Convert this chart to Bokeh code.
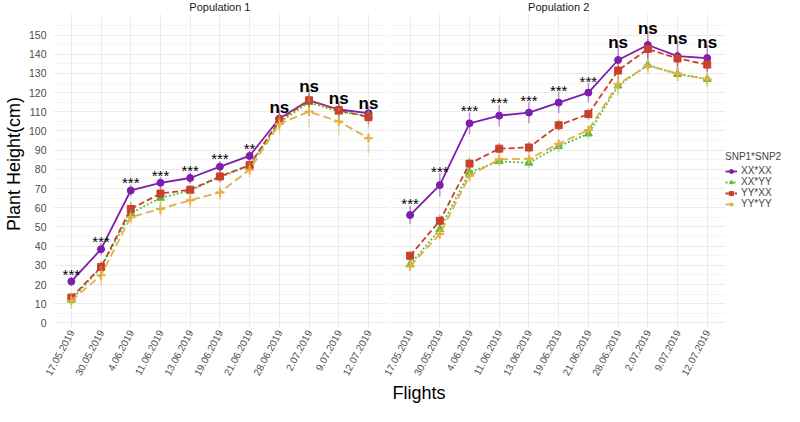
import math
from bokeh.plotting import figure
from bokeh.models import (ColumnDataSource, FixedTicker, Label, Legend, LegendItem,
                          BoxAnnotation, Range1d)
from bokeh.embed import file_html
from bokeh.resources import INLINE
from bokeh.core.properties import value, field

# ---------------- data ----------------
flights = ["17.05.2019", "30.05.2019", "4.06.2019", "11.06.2019", "13.06.2019",
           "19.06.2019", "21.06.2019", "28.06.2019", "2.07.2019", "9.07.2019", "12.07.2019"]
panels = ["Population 1", "Population 2"]
genotypes = ["XX*XX", "XX*YY", "YY*XX", "YY*YY"]

# Population 1 means
p1_XXXX = [21.6, 38.4, 69.0, 73.0, 75.5, 81.4, 87.0, 106.5, 116.0, 111.2, 109.3]
p1_XXYY = [12.0, 29.0, 57.2, 65.1, 69.0, 76.0, 82.0, 104.5, 115.0, 110.0, 108.0]
p1_YYXX = [13.2, 29.1, 59.4, 67.4, 69.4, 76.3, 82.2, 105.6, 116.0, 110.8, 107.2]
p1_YYYY = [11.6, 24.8, 55.1, 59.4, 63.9, 68.0, 79.8, 103.7, 110.1, 105.0, 96.2]
# Population 1 error half-widths
e1_XXXX = [2.4, 3.2, 3.0, 3.0, 3.0, 3.0, 3.0, 4.8, 6.0, 4.5, 4.0]
e1_XXYY = [2.0, 3.0, 3.0, 3.0, 2.5, 3.0, 3.0, 4.0, 5.0, 4.0, 4.0]
e1_YYXX = [2.0, 3.0, 3.5, 3.0, 2.5, 3.0, 3.0, 4.0, 5.0, 4.0, 4.0]
e1_YYYY = [4.4, 5.0, 4.0, 4.0, 4.0, 4.0, 4.0, 5.0, 8.0, 7.0, 7.5]

# Population 2 means
p2_XXXX = [56.2, 71.8, 104.0, 108.0, 109.6, 114.8, 120.0, 137.0, 144.8, 139.0, 138.0]
p2_XXYY = [30.4, 48.7, 78.5, 84.2, 83.4, 92.0, 98.6, 123.6, 134.4, 129.6, 127.0]
p2_YYXX = [35.0, 53.2, 83.0, 90.8, 91.4, 103.0, 108.8, 131.5, 142.7, 137.8, 134.6]
p2_YYYY = [29.5, 46.3, 76.6, 85.3, 85.5, 93.3, 100.5, 124.5, 134.0, 130.0, 127.0]
# Population 2 error half-widths
e2_XXXX = [4.8, 6.0, 5.6, 5.6, 5.5, 5.5, 5.0, 8.0, 7.5, 8.0, 7.0]
e2_XXYY = [2.5, 3.0, 3.0, 2.5, 2.5, 3.0, 3.0, 5.0, 4.0, 3.5, 4.0]
e2_YYXX = [2.5, 3.0, 3.0, 3.0, 3.0, 3.0, 3.0, 5.0, 5.0, 4.0, 4.0]
e2_YYYY = [2.5, 3.0, 3.0, 3.0, 3.0, 3.0, 3.0, 5.0, 4.0, 4.0, 4.0]

sig_p1 = ["***", "***", "***", "***", "***", "***", "**", "ns", "ns", "ns", "ns"]
sig_p2 = ["***", "***", "***", "***", "***", "***", "***", "ns", "ns", "ns", "ns"]

# ---------------- layout helpers ----------------
STEP = 5
OFF2 = 57
x1 = [i * STEP for i in range(len(flights))]
x2 = [OFF2 + i * STEP for i in range(len(flights))]
X_START = -3
X_PANEL_END = x2[-1] + 3     # right edge of panel 2
X_END = 120                  # extra room for the legend
Y_TOP_PANEL = 161            # top of the plotting panels
Y_END = 168                  # room above panels for strip titles

FONT = value("Liberation Sans")
FONTNAME = "Liberation Sans"

p = figure(width=784, height=406,
           x_range=Range1d(X_START, X_END), y_range=Range1d(-2.4, Y_END),
           output_backend="svg", toolbar_location=None,
           min_border_left=0, min_border_top=0, min_border_right=0, min_border_bottom=0,
           outline_line_color=None, background_fill_color="white", border_fill_color="white")

# axes
p.xaxis.ticker = FixedTicker(ticks=x1 + x2)
overrides = {}
for xv, lab in zip(x1, flights):
    overrides[xv] = lab
for xv, lab in zip(x2, flights):
    overrides[xv] = lab
p.xaxis.major_label_overrides = overrides
p.xaxis.major_label_orientation = math.radians(62)
p.xaxis.major_label_text_font_size = "10px"
p.xaxis.major_label_text_color = "#4D4D4D"
p.xaxis.major_label_text_font = FONTNAME
p.xaxis.major_label_standoff = 3
p.xaxis.axis_label = "Flights"
p.xaxis.axis_label_text_font_size = "18px"
p.xaxis.axis_label_text_font_style = "normal"
p.xaxis.axis_label_text_font = FONTNAME
p.xaxis.axis_label_text_color = "black"
p.xaxis.axis_label_standoff = 2

p.yaxis.ticker = FixedTicker(ticks=list(range(0, 151, 10)), minor_ticks=list(range(5, 160, 10)))
p.yaxis.major_label_text_font_size = "10.5px"
p.yaxis.major_label_text_color = "#4D4D4D"
p.yaxis.major_label_text_font = FONTNAME
p.yaxis.major_label_standoff = 3
p.yaxis.axis_label = "Plant Height(cm)"
p.yaxis.axis_label_text_font_size = "18px"
p.yaxis.axis_label_text_font_style = "normal"
p.yaxis.axis_label_text_font = FONTNAME
p.yaxis.axis_label_text_color = "black"
p.yaxis.axis_label_standoff = 2

for ax in (p.xaxis, p.yaxis):
    ax.axis_line_color = None
    ax.major_tick_line_color = None
    ax.minor_tick_line_color = None
    ax.major_tick_out = 0
    ax.major_tick_in = 0

p.xgrid.grid_line_color = "#EBEBEB"
p.ygrid.grid_line_color = "#EBEBEB"
p.ygrid.minor_grid_line_color = "#F4F4F4"

# facet gap, strip area and legend area (cover grid lines)
p.add_layout(BoxAnnotation(left=x1[-1] + 3.2, right=x2[0] - 3.2, fill_color="white",
                           fill_alpha=1.0, line_color=None))
p.add_layout(BoxAnnotation(bottom=Y_TOP_PANEL, fill_color="white", fill_alpha=1.0,
                           line_color=None))
p.add_layout(BoxAnnotation(left=X_PANEL_END, fill_color="white", fill_alpha=1.0,
                           line_color=None))

# series
series = [
    ("XX*XX", p1_XXXX, p2_XXXX, e1_XXXX, e2_XXXX, "#7E1EAE", "solid", "circle", 7),
    ("XX*YY", p1_XXYY, p2_XXYY, e1_XXYY, e2_XXYY, "#5DBE3C", "2 2", "triangle", 8),
    ("YY*XX", p1_YYXX, p2_YYXX, e1_YYXX, e2_YYXX, "#C8412D", "6 3", "square", 7),
    ("YY*YY", p1_YYYY, p2_YYYY, e1_YYYY, e2_YYYY, "#E3B045", "8 4", "cross", 9),
]

items = []
for name, a, b, ea, eb, color, dash, marker, size in series:
    first = None
    for xs, ys, es in ((x1, a, ea), (x2, b, eb)):
        src = ColumnDataSource(dict(x=xs, y=ys,
                                    lo=[y - e for y, e in zip(ys, es)],
                                    hi=[y + e for y, e in zip(ys, es)]))
        p.segment(x0="x", y0="lo", x1="x", y1="hi", source=src, line_color=color,
                  line_alpha=0.45, line_width=1.6, line_dash=dash)
        lr = p.line("x", "y", source=src, line_color=color, line_width=1.8, line_dash=dash)
        sr = p.scatter("x", "y", source=src, marker=marker, size=size, fill_color=color,
                       line_color=color, line_width=2 if marker == "cross" else 1)
        if first is None:
            first = [lr, sr]
    items.append(LegendItem(label=name, renderers=first))

# significance labels
all_p1 = [(p1_XXXX, e1_XXXX), (p1_XXYY, e1_XXYY), (p1_YYXX, e1_YYXX), (p1_YYYY, e1_YYYY)]
all_p2 = [(p2_XXXX, e2_XXXX), (p2_XXYY, e2_XXYY), (p2_YYXX, e2_YYXX), (p2_YYYY, e2_YYYY)]
for xs, grp, sig in ((x1, all_p1, sig_p1), (x2, all_p2, sig_p2)):
    tops = [max(m[i] + e[i] for m, e in grp) for i in range(len(xs))]
    src = ColumnDataSource(dict(
        x=xs, y=tops, text=sig,
        size=["17px" if s == "ns" else "15px" for s in sig],
        style=["bold" if s == "ns" else "normal" for s in sig]))
    p.text(x="x", y="y", text="text", source=src, text_font=FONT,
           text_font_size=field("size"), text_font_style=field("style"),
           text_align="center", text_baseline="alphabetic", y_offset=-2, text_color="black")

# panel (strip) titles
for xs, title in ((x1, panels[0]), (x2, panels[1])):
    p.add_layout(Label(x=(xs[0] + xs[-1]) / 2, y=(Y_TOP_PANEL + Y_END) / 2, text=title,
                       text_font=FONTNAME, text_font_size="11px", text_align="center",
                       text_baseline="middle", text_color="#1A1A1A"))

legend = Legend(items=items, title="SNP1*SNP2", location=(672, 118))
legend.title_text_font_size = "10px"
legend.title_text_font = FONTNAME
legend.title_text_font_style = "normal"
legend.title_standoff = 3
legend.label_text_font_size = "10px"
legend.label_text_font = FONTNAME
legend.label_height = 10
legend.glyph_height = 10
legend.glyph_width = 12
legend.label_standoff = 4
legend.spacing = 0
legend.padding = 2
legend.margin = 0
legend.border_line_color = None
legend.background_fill_alpha = 0
p.add_layout(legend)

open("out.html", "w").write(file_html(p, INLINE))
